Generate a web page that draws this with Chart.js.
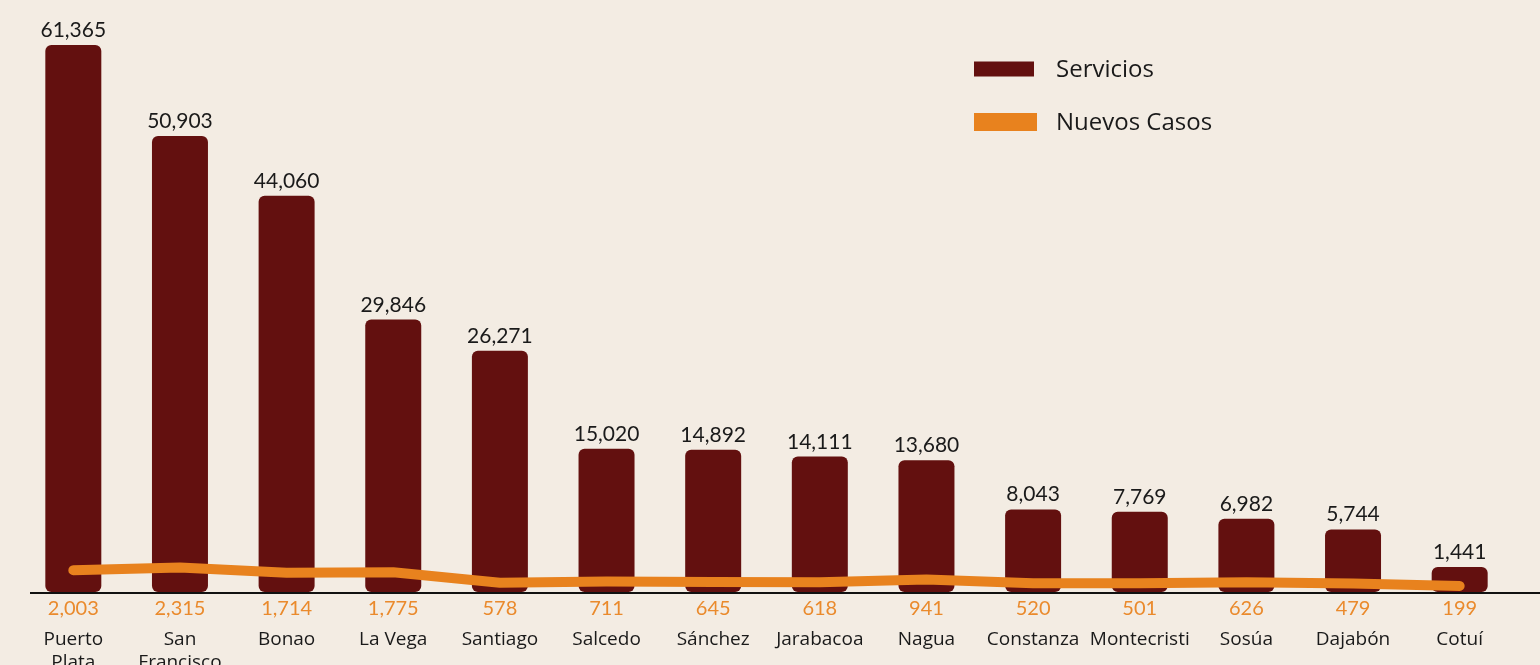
<!DOCTYPE html>
<html>
<head>
<meta charset="utf-8">
<script src="https://cdn.jsdelivr.net/npm/chart.js@4.4.1/dist/chart.umd.min.js"></script>
<style>
  html, body { margin:0; padding:0; background:#f3ece3; }
  #wrap { width:1540px; height:665px; }
</style>
</head>
<body>
<div id="wrap"><canvas id="chart" width="1540" height="665"></canvas></div>
<script>
// data
const categories = [['Puerto','Plata'], ['San','Francisco'], 'Bonao', 'La Vega', 'Santiago', 'Salcedo', 'Sánchez',
  'Jarabacoa', 'Nagua', 'Constanza', 'Montecristi', 'Sosúa', 'Dajabón', 'Cotuí'];
const servicios = [61365, 50903, 44060, 29846, 26271, 15020, 14892, 14111, 13680, 8043, 7769, 6982, 5744, 1441];
const nuevosCasos = [2003, 2315, 1714, 1775, 578, 711, 645, 618, 941, 520, 501, 626, 479, 199];

const BAR = '#63100f';
const LINE = '#e8821e';
const NUMFONT = 'Lato, sans-serif';
const TXTFONT = '"Open Sans", Lato, sans-serif';
const fmt = v => v.toLocaleString('en-US');

// labels, axis line and legend drawn by hand
const decor = {
  id: 'decor',
  afterDatasetsDraw(chart){
    const ctx = chart.ctx;
    const area = chart.chartArea;
    ctx.save();
    // axis line
    ctx.strokeStyle = '#111';
    ctx.lineWidth = 2;
    ctx.beginPath();
    ctx.moveTo(area.left + 10, area.bottom + 1);
    ctx.lineTo(chart.width, area.bottom + 1);
    ctx.stroke();

    const bars = chart.getDatasetMeta(1).data;
    ctx.textAlign = 'center';
    ctx.textBaseline = 'alphabetic';
    bars.forEach((b, i) => {
      ctx.fillStyle = '#1a1a1a';
      ctx.font = '21px ' + NUMFONT;
      ctx.fillText(fmt(servicios[i]), b.x, b.y - 8);
      ctx.fillStyle = '#ea8a2c';
      ctx.font = '20px ' + NUMFONT;
      ctx.fillText(fmt(nuevosCasos[i]), b.x, area.bottom + 23);
    });

    // legend
    const items = chart.data.datasets.slice().reverse();
    const lx = 974, ly = [69, 122];
    items.forEach((ds, i) => {
      ctx.fillStyle = ds.type === 'line' ? ds.borderColor : ds.backgroundColor;
      const h = ds.type === 'line' ? 18 : 15;
      const w = ds.type === 'line' ? 63 : 60;
      ctx.fillRect(lx, ly[i] - h / 2, w, h);
      ctx.fillStyle = '#1a1a1a';
      ctx.font = '24px ' + TXTFONT;
      ctx.textAlign = 'left';
      ctx.textBaseline = 'middle';
      ctx.fillText(ds.label, lx + 82, ly[i] + 1);
    });
    ctx.restore();
  }
};

new Chart(document.getElementById('chart'), {
  data: {
    labels: categories,
    datasets: [
      { type: 'line', label: 'Nuevos Casos', data: nuevosCasos, yAxisID: 'y2', order: 0,
        borderColor: LINE, borderWidth: 10, borderCapStyle: 'round', borderJoinStyle: 'round',
        pointRadius: 0, tension: 0, fill: false },
      { type: 'bar', label: 'Servicios', data: servicios, yAxisID: 'y', order: 1,
        backgroundColor: BAR, borderRadius: 6, borderSkipped: false, base: -1435,
        barPercentage: 0.525, categoryPercentage: 1 }
    ]
  },
  options: {
    responsive: false,
    animation: false,
    layout: { padding: { left: 20, right: 27, top: 0, bottom: 0 } },
    plugins: { legend: { display: false }, tooltip: { enabled: false } },
    scales: {
      x: {
        grid: { display: false, drawTicks: false },
        border: { display: false },
        ticks: { color: '#1a1a1a', font: { family: TXTFONT, size: 19 }, padding: 36, maxRotation: 0, autoSkip: false },
        afterFit(scale){ scale.height = 73; }
      },
      y: { display: false, min: -1435, max: 66525 },
      y2: { display: false, min: -494, max: 67466 }
    }
  },
  plugins: [decor]
});
</script>
</body>
</html>
